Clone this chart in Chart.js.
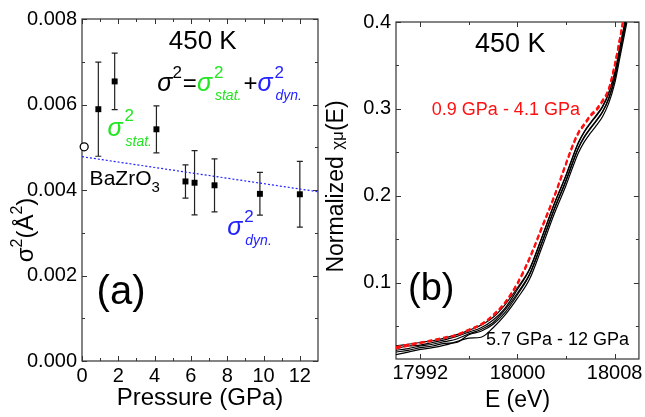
<!DOCTYPE html>
<html>
<head>
<meta charset="utf-8">
<script src="https://cdn.jsdelivr.net/npm/chart.js@4/dist/chart.umd.min.js"></script>
<style>
	body { margin: 0; background: #fff; }
	canvas { position: absolute; top: 0; }
	#left { left: 0; }
	#right { left: 325px; }
</style>
</head>
<body>
<canvas id="left" width="325" height="417"></canvas>
<canvas id="right" width="320" height="417"></canvas>
<script>
// (a) Debye-Waller factor vs pressure
const pressure = [0.9, 1.8, 4.1, 5.7, 6.2, 7.3, 9.8, 12.0];
const sigma2 = [0.00589, 0.00654, 0.00542, 0.00420, 0.00417, 0.00411, 0.00391, 0.00390];
const sigma2Err = [0.00110, 0.00066, 0.00055, 0.00039, 0.00075, 0.00062, 0.00050, 0.00077];

const ambientP = [0.12];
const ambientSigma2 = [0.00501];

const dynFitP = [0, 13];
const dynFitSigma2 = [0.00478, 0.00396];

const pressureTicks = [0, 2, 4, 6, 8, 10, 12];
const pressureMinor = [1, 3, 5, 7, 9, 11];
const sigmaTicks = [0, 0.002, 0.004, 0.006, 0.008];
const sigmaMinor = [0.001, 0.003, 0.005, 0.007];

// (b) edge spectra
const energy = [17990, 17991, 17992, 17993, 17994, 17995, 17996, 17997, 17998, 17999, 18000, 18001, 18002, 18003, 18004, 18004.5, 18005, 18005.5, 18006, 18006.5, 18007, 18007.5, 18008, 18008.5, 18009];

const mu09 = [0.025, 0.028, 0.031, 0.033, 0.036, 0.040, 0.0455, 0.052, 0.062, 0.077, 0.099, 0.128, 0.163, 0.198, 0.237, 0.256, 0.272, 0.282, 0.292, 0.299, 0.309, 0.322, 0.350, 0.386, 0.425];
const mu18 = [0.026, 0.029, 0.031, 0.034, 0.037, 0.040, 0.046, 0.052, 0.063, 0.078, 0.100, 0.129, 0.164, 0.199, 0.238, 0.257, 0.273, 0.283, 0.293, 0.300, 0.310, 0.323, 0.351, 0.387, 0.426];
const mu41 = [0.024, 0.027, 0.030, 0.033, 0.036, 0.039, 0.045, 0.051, 0.062, 0.077, 0.098, 0.127, 0.162, 0.197, 0.236, 0.255, 0.271, 0.281, 0.291, 0.298, 0.308, 0.321, 0.349, 0.385, 0.424];

const mu57 = [0.027, 0.029, 0.031, 0.033, 0.036, 0.040, 0.045, 0.051, 0.060, 0.075, 0.094, 0.116, 0.152, 0.190, 0.224, 0.243, 0.261, 0.274, 0.284, 0.293, 0.303, 0.318, 0.341, 0.376, 0.411];
const mu62 = [0.024, 0.027, 0.028, 0.031, 0.034, 0.038, 0.043, 0.048, 0.057, 0.071, 0.092, 0.115, 0.151, 0.189, 0.223, 0.242, 0.260, 0.273, 0.283, 0.292, 0.302, 0.317, 0.340, 0.375, 0.410];
const mu73 = [0.022, 0.024, 0.027, 0.029, 0.032, 0.035, 0.041, 0.046, 0.054, 0.069, 0.088, 0.110, 0.146, 0.184, 0.218, 0.237, 0.255, 0.268, 0.278, 0.287, 0.297, 0.312, 0.335, 0.370, 0.405];
const mu98 = [0.020, 0.022, 0.025, 0.027, 0.030, 0.031, 0.040, 0.044, 0.052, 0.066, 0.086, 0.109, 0.145, 0.183, 0.217, 0.236, 0.254, 0.267, 0.277, 0.286, 0.296, 0.311, 0.334, 0.369, 0.404];
const mu120 = [0.017, 0.020, 0.023, 0.025, 0.028, 0.032, 0.036, 0.037, 0.048, 0.063, 0.082, 0.104, 0.140, 0.178, 0.212, 0.231, 0.249, 0.262, 0.272, 0.281, 0.291, 0.306, 0.329, 0.364, 0.399];

const lowPressureSpectra = [mu09, mu18, mu41];
const highPressureSpectra = [mu57, mu62, mu73, mu98, mu120];

const energyTicks = [17992, 18000, 18008];
const energyMinor = [17996, 18004];
const muTicks = [0.1, 0.2, 0.3, 0.4];
const muMinor = [0.05, 0.15, 0.25, 0.35];

const FONT = '"Liberation Sans", Arial, sans-serif';
const GREEN = '#22e622';
const BLUE = '#2323ff';
const RED = '#ff1010';

Chart.defaults.font.family = FONT;
Chart.defaults.color = '#000';

function toPoints(xs, ys) {
	return xs.map((x, i) => ({ x: x, y: ys[i] }));
}

// text pieces with super/subscripts; a "stack" piece does not advance the pen
function richWidth(ctx, parts) {
	let w = 0;
	parts.forEach((p) => {
		ctx.font = p.font;
		if (!p.stack) w += ctx.measureText(p.text).width + (p.dx || 0);
	});
	return w;
}

function drawRich(ctx, x, y, parts) {
	let cx = x;
	parts.forEach((p) => {
		ctx.font = p.font;
		ctx.fillStyle = p.color || '#000';
		ctx.fillText(p.text, cx + (p.dx || 0), y + (p.dy || 0));
		if (!p.stack) cx += ctx.measureText(p.text).width + (p.dx || 0);
	});
}

function f(size, style) {
	return (style ? style + ' ' : '') + size + 'px ' + FONT;
}

// box around the plot with inward ticks on all four sides, under the data
function framePlugin(xMajor, xMinor, yMajor, yMinor) {
	return {
		id: 'frame',
		beforeDatasetsDraw(chart) {
			const ctx = chart.ctx;
			const a = chart.chartArea;
			const xs = chart.scales.x;
			const ys = chart.scales.y;

			ctx.save();
			ctx.strokeStyle = '#333';
			ctx.lineWidth = 1.2;
			ctx.strokeRect(a.left, a.top, a.right - a.left, a.bottom - a.top);

			ctx.beginPath();
			const xt = (vals, len) => vals.forEach((v) => {
				const px = Math.round(xs.getPixelForValue(v)) + 0.5;
				ctx.moveTo(px, a.bottom); ctx.lineTo(px, a.bottom - len);
				ctx.moveTo(px, a.top); ctx.lineTo(px, a.top + len);
			});
			const yt = (vals, len) => vals.forEach((v) => {
				const py = Math.round(ys.getPixelForValue(v)) + 0.5;
				ctx.moveTo(a.left, py); ctx.lineTo(a.left + len, py);
				ctx.moveTo(a.right, py); ctx.lineTo(a.right - len, py);
			});
			xt(xMajor, 5); xt(xMinor, 3);
			yt(yMajor, 5); yt(yMinor, 3);
			ctx.lineWidth = 1;
			ctx.stroke();
			ctx.restore();
		}
	};
}

const errorBars = {
	id: 'errorBars',
	beforeDatasetsDraw(chart) {
		const ctx = chart.ctx;
		const xs = chart.scales.x;
		const ys = chart.scales.y;

		ctx.save();
		ctx.strokeStyle = '#222';
		ctx.lineWidth = 1.2;
		ctx.beginPath();
		pressure.forEach((p, i) => {
			const px = xs.getPixelForValue(p);
			const top = ys.getPixelForValue(sigma2[i] + sigma2Err[i]);
			const bot = ys.getPixelForValue(sigma2[i] - sigma2Err[i]);
			ctx.moveTo(px, top); ctx.lineTo(px, bot);
			ctx.moveTo(px - 3, top); ctx.lineTo(px + 3, top);
			ctx.moveTo(px - 3, bot); ctx.lineTo(px + 3, bot);
		});
		ctx.stroke();
		ctx.restore();
	}
};

const leftLabels = {
	id: 'leftLabels',
	afterDraw(chart) {
		const ctx = chart.ctx;
		const xs = chart.scales.x;
		const ys = chart.scales.y;
		const a = chart.chartArea;
		const X = (v) => xs.getPixelForValue(v);
		const Y = (v) => ys.getPixelForValue(v);

		ctx.save();
		ctx.textAlign = 'center';
		ctx.textBaseline = 'middle';
		ctx.font = f(26);
		ctx.fillStyle = '#000';
		ctx.fillText('450 K', X(6.65), Y(0.00746));
		ctx.font = f(40);
		ctx.fillText('(a)', X(2.15), Y(0.00158));

		ctx.textAlign = 'left';
		ctx.textBaseline = 'alphabetic';

		drawRich(ctx, X(4.15), Y(0.00632), [
			{ text: 'σ', font: f(25, 'italic') },
			{ text: '2', font: f(17), dy: -13 },
			{ text: '=', font: f(24), dx: 1 },
			{ text: 'σ', font: f(25, 'italic'), color: GREEN },
			{ text: '2', font: f(17), color: GREEN, dy: -13, dx: 2, stack: true },
			{ text: 'stat.', font: f(14, 'italic'), color: GREEN, dy: 9, dx: 3 },
			{ text: '+', font: f(24), dx: 2 },
			{ text: 'σ', font: f(25, 'italic'), color: BLUE },
			{ text: '2', font: f(17), color: BLUE, dy: -13, dx: 2, stack: true },
			{ text: 'dyn.', font: f(14, 'italic'), color: BLUE, dy: 9, dx: 3 }
		]);

		drawRich(ctx, X(1.4), Y(0.00526), [
			{ text: 'σ', font: f(25, 'italic'), color: GREEN },
			{ text: '2', font: f(17), color: GREEN, dy: -15, dx: 2, stack: true },
			{ text: 'stat.', font: f(14, 'italic'), color: GREEN, dy: 10, dx: 3 }
		]);

		drawRich(ctx, X(0.42), Y(0.00412), [
			{ text: 'BaZrO', font: f(21) },
			{ text: '3', font: f(15), dy: 7 }
		]);

		drawRich(ctx, X(8.0), Y(0.00294), [
			{ text: 'σ', font: f(25, 'italic'), color: BLUE },
			{ text: '2', font: f(17), color: BLUE, dy: -13, dx: 2, stack: true },
			{ text: 'dyn.', font: f(14, 'italic'), color: BLUE, dy: 10, dx: 3 }
		]);

		// y axis title, rotated
		const yParts = [
			{ text: 'σ', font: f(24) },
			{ text: '2', font: f(16), dy: -11 },
			{ text: '(Å', font: f(24) },
			{ text: '2', font: f(16), dy: -11 },
			{ text: ')', font: f(24) }
		];
		ctx.translate(a.left - 49, (a.top + a.bottom) / 2 + 40);
		ctx.rotate(-Math.PI / 2);
		drawRich(ctx, -richWidth(ctx, yParts) / 2, 0, yParts);
		ctx.restore();
	}
};

const rightLabels = {
	id: 'rightLabels',
	afterDraw(chart) {
		const ctx = chart.ctx;
		const xs = chart.scales.x;
		const ys = chart.scales.y;
		const a = chart.chartArea;
		const X = (v) => xs.getPixelForValue(v);
		const Y = (v) => ys.getPixelForValue(v);

		ctx.save();
		ctx.fillStyle = '#000';
		ctx.textAlign = 'center';
		ctx.textBaseline = 'middle';
		ctx.font = f(27);
		ctx.fillText('450 K', X(17999.4), Y(0.374));
		ctx.font = f(38);
		ctx.fillText('(b)', X(17992.9), Y(0.092));

		ctx.textAlign = 'left';
		ctx.font = f(18);
		ctx.fillStyle = RED;
		ctx.fillText('0.9 GPa - 4.1 GPa', X(17992.95), Y(0.299));
		ctx.fillStyle = '#000';
		ctx.fillText('5.7 GPa - 12 GPa', X(17997.4), Y(0.0334));

		ctx.textBaseline = 'alphabetic';
		const yParts = [
			{ text: 'Normalized ', font: f(23) },
			{ text: 'χμ', font: f(17) },
			{ text: '(E)', font: f(23) }
		];
		ctx.translate(a.left - 53, (a.top + a.bottom) / 2 - 4);
		ctx.rotate(-Math.PI / 2);
		drawRich(ctx, -richWidth(ctx, yParts) / 2, 0, yParts);
		ctx.restore();
	}
};

new Chart(document.getElementById('left'), {
	type: 'scatter',
	data: {
		datasets: [
			{
				data: toPoints(pressure, sigma2),
				pointStyle: 'rect',
				pointRadius: 4.2,
				backgroundColor: '#000',
				borderColor: '#000',
				borderWidth: 0
			},
			{
				data: toPoints(ambientP, ambientSigma2),
				pointStyle: 'circle',
				pointRadius: 4,
				backgroundColor: '#fff',
				borderColor: '#000',
				borderWidth: 1.3,
				clip: false
			},
			{
				data: toPoints(dynFitP, dynFitSigma2),
				showLine: true,
				borderColor: BLUE,
				borderWidth: 1.2,
				borderDash: [2, 2],
				pointRadius: 0
			}
		]
	},
	options: {
		responsive: false,
		animation: false,
		events: [],
		layout: { padding: { top: 19, right: 7, left: 0, bottom: 0 } },
		plugins: { legend: { display: false }, tooltip: { enabled: false } },
		scales: {
			x: {
				type: 'linear',
				min: 0,
				max: 13,
				grid: { display: false, drawTicks: false },
				border: { display: false },
				afterBuildTicks: (scale) => { scale.ticks = pressureTicks.map((v) => ({ value: v })); },
				afterFit: (scale) => { scale.height = 56; },
				ticks: { font: { size: 20 }, padding: 3, maxRotation: 0, autoSkip: false, callback: (v) => String(v) },
				title: { display: true, text: 'Pressure (GPa)', font: { size: 24 }, padding: { top: 0, bottom: 4 } }
			},
			y: {
				min: 0,
				max: 0.008,
				grid: { display: false, drawTicks: false },
				border: { display: false },
				afterBuildTicks: (scale) => { scale.ticks = sigmaTicks.map((v) => ({ value: v })); },
				afterFit: (scale) => { scale.width = 82; },
				ticks: { font: { size: 20 }, padding: 5, autoSkip: false, callback: (v) => v.toFixed(3) }
			}
		}
	},
	plugins: [framePlugin(pressureTicks, pressureMinor, sigmaTicks, sigmaMinor), errorBars, leftLabels]
});

const spectra = [];
lowPressureSpectra.forEach((s) => {
	spectra.push({
		data: toPoints(energy, s),
		borderColor: RED,
		borderWidth: 1.7,
		borderDash: [5, 3],
		pointRadius: 0,
		cubicInterpolationMode: 'monotone'
	});
});
highPressureSpectra.forEach((s) => {
	spectra.push({
		data: toPoints(energy, s),
		borderColor: '#000',
		borderWidth: 1.2,
		pointRadius: 0,
		cubicInterpolationMode: 'monotone'
	});
});

new Chart(document.getElementById('right'), {
	type: 'line',
	data: { datasets: spectra },
	options: {
		responsive: false,
		animation: false,
		events: [],
		layout: { padding: { top: 22, right: 5.5, left: 0, bottom: 0 } },
		plugins: { legend: { display: false }, tooltip: { enabled: false } },
		scales: {
			x: {
				type: 'linear',
				min: 17990,
				max: 18010,
				grid: { display: false, drawTicks: false },
				border: { display: false },
				afterBuildTicks: (scale) => { scale.ticks = energyTicks.map((v) => ({ value: v })); },
				afterFit: (scale) => { scale.height = 58; },
				ticks: { font: { size: 20 }, padding: 2, maxRotation: 0, autoSkip: false, callback: (v) => String(v) },
				title: { display: true, text: 'E (eV)', font: { size: 23 }, padding: { top: 0, bottom: 3 } }
			},
			y: {
				min: 0.012,
				max: 0.4,
				grid: { display: false, drawTicks: false },
				border: { display: false },
				afterBuildTicks: (scale) => { scale.ticks = muTicks.map((v) => ({ value: v })); },
				afterFit: (scale) => { scale.width = 71; },
				ticks: { font: { size: 20 }, padding: 5, autoSkip: false, callback: (v) => v.toFixed(1) }
			}
		}
	},
	plugins: [framePlugin(energyTicks, energyMinor, muTicks, muMinor), rightLabels]
});
</script>
</body>
</html>
